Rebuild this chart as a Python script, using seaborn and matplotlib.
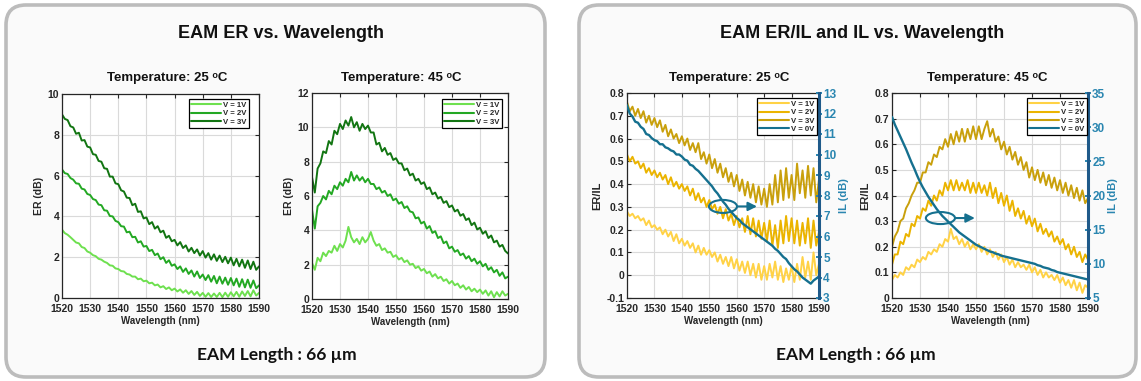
import numpy as np
import pandas as pd
import seaborn as sns
import matplotlib
matplotlib.use("Agg")
import matplotlib.pyplot as plt
from matplotlib.patches import FancyBboxPatch, Ellipse
from matplotlib.transforms import IdentityTransform
from matplotlib.lines import Line2D

# ---------------- data (1 nm steps) ----------------
wavelength = np.arange(1520, 1591)
voltage_labels = ["V = 1V", "V = 2V", "V = 3V"]
il_label = "V = 0V"

er25_1V = [3.35, 3.18, 3.10, 2.98, 2.85, 2.72, 2.68, 2.50, 2.45, 2.28,
           2.22, 2.10, 2.05, 1.92, 1.88, 1.78, 1.72, 1.60, 1.58, 1.45,
           1.42, 1.32, 1.30, 1.18, 1.15, 1.05, 1.05, 0.92, 0.95, 0.82,
           0.85, 0.72, 0.75, 0.62, 0.66, 0.52, 0.58, 0.44, 0.52, 0.38,
           0.46, 0.32, 0.42, 0.26, 0.38, 0.20, 0.34, 0.15, 0.30, 0.10,
           0.25, 0.06, 0.24, 0.05, 0.22, 0.05, 0.25, 0.04, 0.26, 0.06,
           0.28, 0.08, 0.30, 0.06, 0.32, 0.10, 0.34, 0.08, 0.38, 0.12,
           0.25]
er25_2V = [6.30, 6.12, 6.08, 5.88, 5.80, 5.62, 5.60, 5.36, 5.32, 5.10,
           5.05, 4.85, 4.80, 4.58, 4.55, 4.30, 4.28, 4.02, 4.00, 3.78,
           3.72, 3.52, 3.50, 3.22, 3.25, 2.98, 3.00, 2.72, 2.78, 2.52,
           2.55, 2.30, 2.36, 2.10, 2.18, 1.90, 2.00, 1.72, 1.85, 1.58,
           1.65, 1.42, 1.55, 1.28, 1.45, 1.18, 1.35, 1.05, 1.30, 0.98,
           1.15, 0.88, 1.12, 0.80, 1.08, 0.72, 1.05, 0.70, 1.00, 0.65,
           0.98, 0.62, 0.95, 0.55, 0.92, 0.52, 0.90, 0.50, 0.86, 0.48,
           0.62]
er25_3V = [9.00, 8.78, 8.72, 8.42, 8.36, 8.05, 8.10, 7.72, 7.74, 7.42,
           7.38, 7.05, 7.02, 6.72, 6.68, 6.36, 6.33, 5.95, 5.95, 5.62,
           5.58, 5.28, 5.22, 4.92, 4.90, 4.55, 4.62, 4.22, 4.25, 3.90,
           3.95, 3.62, 3.72, 3.40, 3.52, 3.22, 3.30, 2.95, 3.05, 2.78,
           2.85, 2.58, 2.74, 2.45, 2.58, 2.28, 2.46, 2.20, 2.38, 2.08,
           2.30, 1.98, 2.20, 1.88, 2.14, 1.82, 2.08, 1.76, 2.02, 1.70,
           1.98, 1.60, 1.92, 1.55, 1.88, 1.48, 1.84, 1.42, 1.78, 1.38,
           1.55]

er45_1V = [2.10, 1.70, 2.40, 2.20, 2.70, 2.50, 2.80, 2.70, 3.10, 2.80,
           3.20, 3.00, 3.40, 4.20, 3.60, 3.30, 3.50, 3.20, 3.60, 3.30,
           3.50, 3.90, 3.40, 3.10, 3.20, 2.85, 2.95, 2.70, 2.75, 2.45,
           2.55, 2.30, 2.40, 2.15, 2.25, 2.00, 2.05, 1.80, 1.90, 1.65,
           1.75, 1.50, 1.60, 1.30, 1.45, 1.20, 1.30, 1.05, 1.15, 0.90,
           1.05, 0.80, 0.90, 0.65, 0.80, 0.55, 0.70, 0.45, 0.60, 0.40,
           0.55, 0.30, 0.50, 0.20, 0.45, 0.10, 0.40, 0.15, 0.45, 0.20,
           0.30]
er45_2V = [5.20, 4.10, 5.40, 5.60, 6.00, 5.80, 6.30, 6.10, 6.60, 6.40,
           6.80, 6.60, 7.00, 6.80, 7.40, 6.90, 7.20, 6.90, 7.10, 6.80,
           7.00, 6.70, 6.70, 6.40, 6.50, 6.20, 6.30, 6.00, 6.10, 5.75,
           5.85, 5.55, 5.65, 5.30, 5.40, 5.10, 5.05, 4.70, 4.75, 4.40,
           4.50, 4.10, 4.25, 3.85, 3.95, 3.55, 3.65, 3.25, 3.35, 2.95,
           3.05, 2.75, 2.85, 2.55, 2.65, 2.35, 2.50, 2.20, 2.35, 2.05,
           2.20, 1.90, 2.05, 1.70, 1.85, 1.55, 1.70, 1.35, 1.55, 1.20,
           1.30]
er45_3V = [7.10, 6.20, 7.60, 7.90, 8.60, 8.50, 9.20, 9.00, 9.80, 9.60,
           10.20, 9.90, 10.40, 10.10, 10.60, 10.00, 10.30, 9.80, 10.20, 9.90,
           10.10, 9.70, 9.70, 9.00, 9.10, 8.60, 8.80, 8.40, 8.50, 8.10,
           8.20, 7.90, 7.90, 7.50, 7.60, 7.20, 7.30, 6.90, 7.00, 6.70,
           6.80, 6.40, 6.50, 6.10, 6.20, 5.85, 5.95, 5.60, 5.70, 5.35,
           5.45, 5.10, 5.20, 4.85, 4.95, 4.60, 4.70, 4.30, 4.45, 4.05,
           4.15, 3.80, 3.95, 3.55, 3.70, 3.30, 3.40, 3.05, 3.15, 2.80,
           2.65]

erl25_1V = [0.28, 0.26, 0.27, 0.25, 0.26, 0.24, 0.25, 0.22, 0.24, 0.21,
            0.22, 0.20, 0.21, 0.18, 0.20, 0.17, 0.19, 0.15, 0.18, 0.14,
            0.16, 0.13, 0.15, 0.12, 0.14, 0.10, 0.13, 0.09, 0.12, 0.09,
            0.11, 0.08, 0.10, 0.06, 0.09, 0.05, 0.08, 0.04, 0.08, 0.03,
            0.07, 0.02, 0.06, 0.01, 0.06, 0.00, 0.05, -0.01, 0.05, -0.02,
            0.04, -0.02, 0.05, -0.01, 0.06, -0.02, 0.04, -0.03, 0.03, -0.02,
            0.04, -0.03, 0.05, -0.02, 0.08, -0.01, 0.06, -0.02, 0.10, 0.00,
            0.05]
erl25_2V = [0.53, 0.50, 0.52, 0.49, 0.50, 0.47, 0.49, 0.45, 0.47, 0.44,
            0.46, 0.43, 0.45, 0.42, 0.44, 0.40, 0.43, 0.39, 0.41, 0.38,
            0.40, 0.37, 0.39, 0.35, 0.38, 0.33, 0.36, 0.32, 0.34, 0.30,
            0.33, 0.29, 0.31, 0.27, 0.30, 0.25, 0.29, 0.24, 0.27, 0.22,
            0.26, 0.21, 0.25, 0.19, 0.26, 0.18, 0.25, 0.17, 0.24, 0.16,
            0.23, 0.15, 0.24, 0.13, 0.22, 0.12, 0.24, 0.14, 0.26, 0.15,
            0.25, 0.14, 0.24, 0.13, 0.23, 0.14, 0.25, 0.12, 0.24, 0.13,
            0.19]
erl25_3V = [0.76, 0.72, 0.74, 0.70, 0.73, 0.69, 0.72, 0.67, 0.70, 0.66,
            0.69, 0.65, 0.68, 0.63, 0.66, 0.61, 0.64, 0.60, 0.62, 0.58,
            0.61, 0.57, 0.60, 0.55, 0.58, 0.54, 0.58, 0.51, 0.54, 0.49,
            0.53, 0.47, 0.51, 0.45, 0.49, 0.43, 0.47, 0.41, 0.45, 0.39,
            0.44, 0.37, 0.42, 0.35, 0.41, 0.34, 0.40, 0.32, 0.39, 0.31,
            0.38, 0.30, 0.40, 0.31, 0.44, 0.32, 0.46, 0.33, 0.47, 0.34,
            0.44, 0.33, 0.49, 0.36, 0.46, 0.34, 0.48, 0.35, 0.47, 0.32,
            0.42]
il25_0V = [12.40, 12.00, 11.85, 11.60, 11.55, 11.35, 11.25, 11.00, 10.95, 10.80,
           10.70, 10.65, 10.50, 10.50, 10.35, 10.30, 10.20, 10.15, 10.00, 10.00,
           9.90, 9.75, 9.70, 9.50, 9.45, 9.30, 9.20, 9.05, 8.90, 8.75,
           8.60, 8.45, 8.25, 8.10, 7.90, 7.70, 7.55, 7.35, 7.20, 7.05,
           6.90, 6.80, 6.65, 6.55, 6.45, 6.35, 6.25, 6.15, 6.05, 5.95,
           5.85, 5.75, 5.65, 5.55, 5.40, 5.30, 5.15, 5.00, 4.90, 4.70,
           4.55, 4.40, 4.30, 4.15, 4.00, 3.90, 3.80, 3.70, 3.85, 3.95,
           4.05]

erl45_1V = [0.07, 0.09, 0.08, 0.10, 0.09, 0.12, 0.11, 0.13, 0.12, 0.15,
            0.14, 0.16, 0.15, 0.18, 0.17, 0.19, 0.18, 0.21, 0.20, 0.23,
            0.22, 0.27, 0.23, 0.24, 0.21, 0.23, 0.20, 0.22, 0.19, 0.21,
            0.19, 0.21, 0.18, 0.20, 0.17, 0.19, 0.16, 0.18, 0.15, 0.17,
            0.14, 0.16, 0.13, 0.15, 0.12, 0.14, 0.12, 0.13, 0.11, 0.13,
            0.10, 0.12, 0.09, 0.11, 0.08, 0.10, 0.08, 0.09, 0.07, 0.09,
            0.06, 0.08, 0.05, 0.07, 0.04, 0.07, 0.03, 0.06, 0.02, 0.05,
            0.04]
erl45_2V = [0.13, 0.17, 0.17, 0.22, 0.21, 0.25, 0.24, 0.29, 0.28, 0.32,
            0.31, 0.35, 0.34, 0.38, 0.36, 0.40, 0.38, 0.42, 0.40, 0.45,
            0.42, 0.46, 0.42, 0.46, 0.42, 0.45, 0.42, 0.46, 0.41, 0.45,
            0.41, 0.45, 0.41, 0.44, 0.40, 0.45, 0.39, 0.43, 0.37, 0.41,
            0.36, 0.40, 0.34, 0.38, 0.32, 0.35, 0.31, 0.34, 0.29, 0.32,
            0.28, 0.31, 0.26, 0.29, 0.25, 0.27, 0.24, 0.26, 0.22, 0.24,
            0.21, 0.23, 0.19, 0.21, 0.17, 0.20, 0.16, 0.18, 0.14, 0.17,
            0.15]
erl45_3V = [0.20, 0.24, 0.26, 0.30, 0.31, 0.35, 0.37, 0.40, 0.42, 0.45,
            0.45, 0.49, 0.49, 0.53, 0.52, 0.56, 0.55, 0.59, 0.58, 0.62,
            0.59, 0.64, 0.60, 0.65, 0.61, 0.66, 0.61, 0.66, 0.62, 0.67,
            0.62, 0.67, 0.62, 0.66, 0.69, 0.63, 0.66, 0.61, 0.63, 0.58,
            0.61, 0.56, 0.59, 0.54, 0.57, 0.52, 0.55, 0.50, 0.53, 0.47,
            0.51, 0.46, 0.50, 0.45, 0.49, 0.44, 0.48, 0.43, 0.47, 0.42,
            0.46, 0.41, 0.45, 0.40, 0.44, 0.39, 0.43, 0.38, 0.42, 0.37,
            0.39]
il45_0V = [31.5, 30.4, 29.5, 28.6, 27.7, 26.8, 25.8, 24.8, 23.9, 22.9,
           22.0, 21.2, 20.5, 19.8, 19.2, 18.6, 18.0, 17.5, 17.0, 16.6,
           16.2, 15.8, 15.4, 15.0, 14.6, 14.3, 14.0, 13.7, 13.4, 13.1,
           12.8, 12.6, 12.4, 12.2, 12.0, 11.8, 11.7, 11.5, 11.4, 11.2,
           11.1, 11.0, 10.9, 10.8, 10.7, 10.6, 10.5, 10.4, 10.3, 10.2,
           10.1, 10.0, 9.8, 9.7, 9.5, 9.4, 9.3, 9.1, 9.0, 8.8,
           8.7, 8.6, 8.5, 8.4, 8.3, 8.2, 8.1, 8.0, 7.9, 7.8,
           7.7]

xticks = [1520, 1530, 1540, 1550, 1560, 1570, 1580, 1590]

# ---------------- style ----------------
sns.set_style("white")
plt.rcParams["font.family"] = ["Liberation Sans", "DejaVu Sans"]

greens = ["#6ee04f", "#23a823", "#127512"]
golds = ["#ffd246", "#ebb400", "#c9a00c"]
blue = "#15708f"
blue_txt = "#2a86b0"
blue_spine = "#1f5a8a"
ink = "#262626"

W, H = 1141, 381
fig = plt.figure(figsize=(W / 100, H / 100), dpi=100)
fig.patch.set_facecolor("white")

# rounded panel frames (pixel coordinates)
for x0, x1 in [(6, 545), (579, 1136)]:
    fr = FancyBboxPatch((x0, 4), x1 - x0, 372,
                        boxstyle="round,pad=0,rounding_size=20",
                        transform=IdentityTransform(),
                        facecolor="#fafafa", edgecolor="#bcbcbc", lw=2.6, zorder=-5)
    fig.add_artist(fr)


def pos(x0, y0, x1, y1):
    return [x0 / W, 1 - y1 / H, (x1 - x0) / W, (y1 - y0) / H]


def long_df(series):
    return pd.DataFrame({
        "wl": np.tile(wavelength, len(series)),
        "val": np.concatenate([np.asarray(s, float) for s in series]),
        "V": np.repeat(voltage_labels, len(wavelength)),
    })


def style(ax, ylim, yticks, ylabel, yfmt=None):
    ax.set_facecolor("white")
    ax.set_xlim(1520, 1590)
    ax.set_xticks(xticks)
    ax.set_ylim(*ylim)
    ax.set_yticks(yticks)
    if yfmt:
        ax.set_yticklabels([yfmt(v) for v in yticks])
    ax.grid(True, color="#dadada", lw=0.8)
    ax.set_axisbelow(True)
    ax.tick_params(direction="in", length=3, width=0.8, labelsize=7.5,
                   colors=ink, pad=2, top=True)
    ax.tick_params(axis="x", pad=4)
    for lbl in ax.get_xticklabels() + ax.get_yticklabels():
        lbl.set_fontweight("bold")
    for s in ax.spines.values():
        s.set_color(ink)
        s.set_linewidth(0.9)
        s.set_visible(True)
    ax.set_xlabel("Wavelength (nm)", fontsize=7, fontweight="bold", color=ink, labelpad=2)
    ax.set_ylabel(ylabel, fontsize=7.5, fontweight="bold", color=ink, labelpad=3)


def add_legend(ax, labels, colors, anchor):
    handles = [Line2D([], [], color=c, lw=1.5) for c in colors]
    leg = ax.legend(handles, labels, loc="upper right", bbox_to_anchor=anchor,
                    prop={"size": 5.6, "weight": "bold"}, frameon=True, fancybox=False,
                    edgecolor="black", framealpha=1, handlelength=3.8, handletextpad=0.3,
                    labelspacing=0.12, borderpad=0.3, borderaxespad=0)
    leg.get_frame().set_linewidth(0.9)
    leg.set_zorder(20)


LW = 1.4

# ---- panel 1: ER 25C ----
ax1 = fig.add_axes(pos(62, 94, 259, 298))
sns.lineplot(data=long_df([er25_1V, er25_2V, er25_3V]), x="wl", y="val", hue="V",
             palette=greens, lw=LW, estimator=None, legend=False, ax=ax1)
style(ax1, (0, 10), [0, 2, 4, 6, 8, 10], "ER (dB)")
ax1.tick_params(right=True)
add_legend(ax1, voltage_labels, greens, (0.949, 0.975))

# ---- panel 2: ER 45C ----
ax2 = fig.add_axes(pos(312, 93, 508, 299))
sns.lineplot(data=long_df([er45_1V, er45_2V, er45_3V]), x="wl", y="val", hue="V",
             palette=greens, lw=LW, estimator=None, legend=False, ax=ax2)
style(ax2, (0, 12), [0, 2, 4, 6, 8, 10, 12], "ER (dB)")
ax2.tick_params(right=True)
add_legend(ax2, voltage_labels, greens, (0.969, 0.97))

fmt1 = lambda v: "0" if abs(v) < 1e-9 else "%.1f" % v


def twin_panel(rect, erl, il, ylim, yticks, il_lim, il_ticks, anchor, ell, arrow_end):
    ax = fig.add_axes(rect)
    sns.lineplot(data=long_df(erl), x="wl", y="val", hue="V",
                 palette=golds, lw=LW, estimator=None, legend=False, ax=ax)
    style(ax, ylim, yticks, "ER/IL", yfmt=fmt1)
    ax.yaxis.label.set_size(8)
    axr = ax.twinx()
    sns.lineplot(x=wavelength, y=il, color=blue, lw=LW + 0.3, ax=axr)
    axr.set_ylim(*il_lim)
    axr.set_yticks(il_ticks)
    axr.tick_params(axis="y", colors=blue_txt, labelsize=8.5, direction="inout",
                    length=4, width=1.4, pad=1)
    for lbl in axr.get_yticklabels():
        lbl.set_fontweight("bold")
    for side in ["left", "top", "bottom"]:
        axr.spines[side].set_visible(False)
    axr.spines["right"].set_color(blue_spine)
    axr.spines["right"].set_linewidth(2.2)
    axr.set_ylabel("IL (dB)", fontsize=8, fontweight="bold", color=blue_txt, labelpad=2)
    axr.set_xlim(1520, 1590)
    # annotation: ellipse with arrow pointing to right axis
    cx, cy, ew, eh = ell
    e = Ellipse((cx, cy), ew, eh, fill=False, edgecolor=blue, lw=1.5,
                transform=ax.transData, zorder=10)
    axr.add_artist(e)
    axr.annotate("", xy=(arrow_end, cy), xytext=(cx + ew / 2, cy),
                 xycoords=ax.transData, textcoords=ax.transData,
                 arrowprops=dict(arrowstyle="-|>", color=blue, lw=1.5,
                                 mutation_scale=13, shrinkA=0, shrinkB=0), zorder=10)
    add_legend(axr, voltage_labels + [il_label], golds + [blue], anchor)
    return ax, axr


ax3, ax3r = twin_panel(pos(627, 93, 819, 298), [erl25_1V, erl25_2V, erl25_3V], il25_0V,
                       (-0.1, 0.8), [-0.1, 0, 0.1, 0.2, 0.3, 0.4, 0.5, 0.6, 0.7, 0.8],
                       (3, 13), list(range(3, 14)), (0.99, 0.975),
                       (1555.0, 0.302, 10.2, 0.057), 1567.4)
ax4, ax4r = twin_panel(pos(892, 93, 1088, 298), [erl45_1V, erl45_2V, erl45_3V], il45_0V,
                       (0, 0.8), [0, 0.1, 0.2, 0.3, 0.4, 0.5, 0.6, 0.7, 0.8],
                       (5, 35), [5, 10, 15, 20, 25, 30, 35], (0.995, 0.975),
                       (1537.3, 0.312, 10.4, 0.047), 1549.6)

# ---------------- texts ----------------
for xc, t in [(167, "Temperature: 25 ᵒC"), (401, "Temperature: 45 ᵒC"),
              (729, "Temperature: 25 ᵒC"), (987, "Temperature: 45 ᵒC")]:
    fig.text(xc / W, 1 - 78 / H, t, ha="center", va="center", fontsize=9.5,
             fontweight="bold", color="#111111")

fig.text(281 / W, 1 - 33 / H, "EAM ER vs. Wavelength", ha="center", va="center",
         fontsize=13, fontweight="bold", color="#111111")
fig.text(862 / W, 1 - 33 / H, "EAM ER/IL and IL vs. Wavelength", ha="center", va="center",
         fontsize=13, fontweight="bold", color="#111111")
for xc in [277, 856]:
    fig.text(xc / W, 1 - 355 / H, "EAM Length : 66 µm", ha="center", va="center",
             fontsize=12.5, fontweight="bold", color="#111111",
             family=["Lato", "DejaVu Sans"])

fig.savefig("out.png", dpi=100)
